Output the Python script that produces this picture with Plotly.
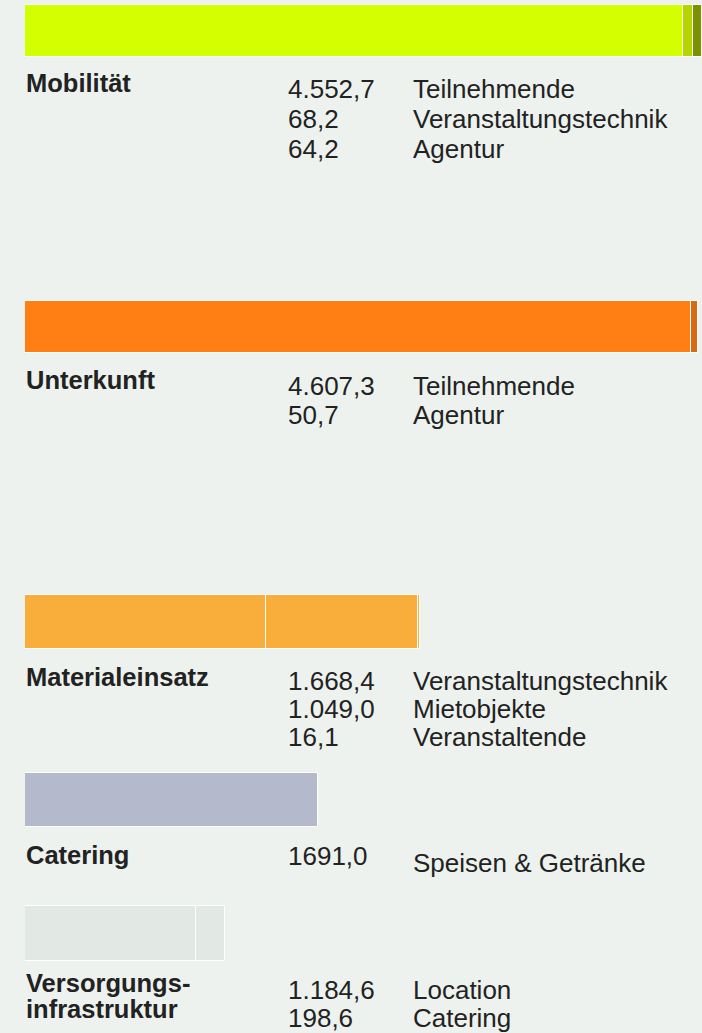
import plotly.graph_objects as go

# ---------------- data ----------------
categories = ["Mobilität", "Unterkunft", "Materialeinsatz", "Catering", "Versorgungs-<br>infrastruktur"]

mobilitaet_values = [4552.7, 68.2, 64.2]
unterkunft_values = [4607.3, 50.7]
material_values = [1668.4, 1049.0, 16.1]
catering_values = [2030.0]          # bar length as drawn in the picture (label reads 1691,0)
versorgung_values = [1184.6, 198.6]

mobilitaet_labels = ["4.552,7", "68,2", "64,2"]
unterkunft_labels = ["4.607,3", "50,7"]
material_labels = ["1.668,4", "1.049,0", "16,1"]
catering_labels = ["1691,0"]
versorgung_labels = ["1.184,6", "198,6"]

mobilitaet_parts = ["Teilnehmende", "Veranstaltungstechnik", "Agentur"]
unterkunft_parts = ["Teilnehmende", "Agentur"]
material_parts = ["Veranstaltungstechnik", "Mietobjekte", "Veranstaltende"]
catering_parts = ["Speisen & Getränke"]
versorgung_parts = ["Location", "Catering"]

# ---------------- styling / layout ----------------
W, H = 702, 1033
BG = "#edf2ee"
TXT = "#222222"
FONT = "Liberation Sans"
REG_SIZE = 26
BOLD_SIZE = 25.5

groups = [
    dict(values=mobilitaet_values, labels=mobilitaet_labels, parts=mobilitaet_parts,
         colors=["#d4ff00", "#b6d400", "#7a9100"], yc=31, bh=52,
         label_y=83, row_y=89, step=30, desc_dy=0),
    dict(values=unterkunft_values, labels=unterkunft_labels, parts=unterkunft_parts,
         colors=["#ff7f15", "#d86b12"], yc=327, bh=52,
         label_y=380, row_y=386, step=29, desc_dy=0),
    dict(values=material_values, labels=material_labels, parts=material_parts,
         colors=["#f9ad3a", "#f9ad3a", "#f9ad3a"], yc=622, bh=54,
         label_y=677, row_y=681, step=28, desc_dy=0),
    dict(values=catering_values, labels=catering_labels, parts=catering_parts,
         colors=["#b4bacb"], yc=800, bh=54,
         label_y=855, row_y=856, step=28, desc_dy=7),
    dict(values=versorgung_values, labels=versorgung_labels, parts=versorgung_parts,
         colors=["#e2e9e4", "#e2e9e4"], yc=933, bh=55,
         label_y=983, row_y=990, step=28, desc_dy=0),
]
LABEL_LINE_STEP = 25.5
X0_PX = 25
NUM_X_PX = 286
DESC_X_PX = 411

fig = go.Figure()
annotations = []

for cat, g in zip(categories, groups):
    base = 0.0
    for v, c in zip(g["values"], g["colors"]):
        fig.add_trace(go.Bar(
            orientation="h", x=[v], y=[g["yc"]], base=[base], width=g["bh"],
            marker=dict(color=c, line=dict(color="white", width=1)),
            showlegend=False, hoverinfo="skip",
        ))
        base += v
    lines = cat.split("<br>")
    for k, line in enumerate(lines):
        annotations.append(dict(
            x=X0_PX / W - 0.002, xref="paper", y=g["label_y"] + k * LABEL_LINE_STEP, yref="y",
            text="<b>" + line + "</b>", showarrow=False, xanchor="left", yanchor="middle",
            font=dict(family=FONT, size=BOLD_SIZE, color=TXT),
        ))
    for i, (lab, part) in enumerate(zip(g["labels"], g["parts"])):
        yy = g["row_y"] + i * g["step"]
        annotations.append(dict(
            x=NUM_X_PX / W, xref="paper", y=yy, yref="y", text=lab, showarrow=False,
            xanchor="left", yanchor="middle", font=dict(family=FONT, size=REG_SIZE, color=TXT),
        ))
        annotations.append(dict(
            x=DESC_X_PX / W, xref="paper", y=yy + g["desc_dy"], yref="y", text=part, showarrow=False,
            xanchor="left", yanchor="middle", font=dict(family=FONT, size=REG_SIZE, color=TXT),
        ))

x_max = max(sum(g["values"]) for g in groups[:2])

fig.update_layout(
    width=W, height=H,
    margin=dict(l=0, r=0, t=0, b=0, pad=0),
    paper_bgcolor=BG, plot_bgcolor=BG,
    barmode="overlay", bargap=0,
    xaxis=dict(domain=[X0_PX / W, 1], range=[0, x_max], visible=False, fixedrange=True),
    yaxis=dict(domain=[0, 1], range=[H, 0], visible=False, fixedrange=True),
    annotations=annotations,
    showlegend=False,
)

fig.write_html(
    "out.html",
    config={"displayModeBar": False},
    post_script=(
        "document.documentElement.style.margin='0';"
        "document.body.style.margin='0';"
        "document.body.style.overflow='hidden';"
        "document.body.style.background='" + BG + "';"
    ),
)
